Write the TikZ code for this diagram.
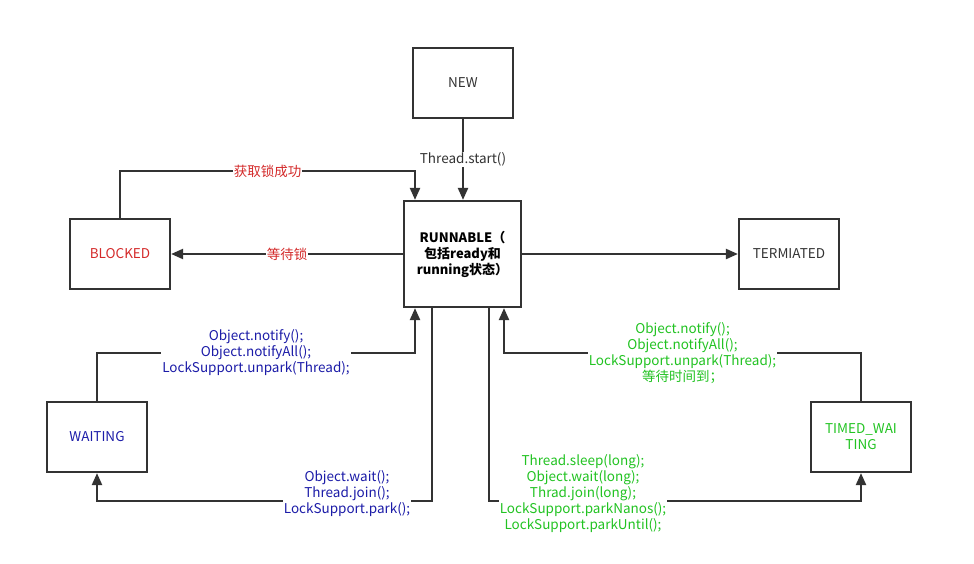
\documentclass[tikz,border=0pt]{standalone}
\usepackage{fontspec}
\setmainfont{Noto Sans CJK SC}
\usetikzlibrary{arrows.meta}
\definecolor{lineGray}{HTML}{333333}
\definecolor{lockRed}{HTML}{D42A2A}
\definecolor{waitBlue}{HTML}{1C1CA8}
\definecolor{timedGreen}{HTML}{22C322}

\begin{document}
\begin{tikzpicture}[x=1pt,y=-1pt,
    state/.style={draw=lineGray, line width=2.2pt, minimum width=100pt, minimum height=70pt,
        align=center, text=lineGray, font=\fontsize{13.5}{16}\selectfont},
    arr/.style={draw=lineGray, line width=2.2pt, -{Triangle[length=12pt,width=10pt]}},
    lab/.style={fill=white, inner sep=1pt, align=center, font=\fontsize{13.5}{16}\selectfont}]
    \useasboundingbox (0,0) rectangle (974,564);

    \node[state] (new) at (463,83) {NEW};
    \node[state, minimum width=117pt, minimum height=106pt, text=black,
        font=\fontsize{13}{16}\selectfont\bfseries] (runnable) at (462.5,254)
        {RUNNABLE（\\包括ready和\\running状态）};
    \node[state] (termiated) at (789,254) {TERMIATED};
    \node[state, text=lockRed] (blocked) at (120,254) {BLOCKED};
    \node[state, text=waitBlue] (waiting) at (97,437) {WAITING};
    \node[state, text=timedGreen] (timed) at (861,437) {TIMED\_WAI\\TING};

    \coordinate (bk) at (415,171);
    \coordinate (wk) at (415,353);
    \coordinate (tk) at (504,353);
    \coordinate (wd) at (432,501);
    \coordinate (td) at (489,501);

    \draw[arr] (new.south) -- node[lab, text=lineGray] {Thread.start()} (new.south |- runnable.north);
    \draw[arr] (blocked.north) |- node[lab, text=lockRed, pos=0.75] {获取锁成功} (bk) -- (bk |- runnable.north);
    \draw[arr] (runnable) -- node[lab, text=lockRed] {等待锁} (blocked);
    \draw[arr] (runnable) -- (termiated);

    \draw[arr] (waiting.north) |- node[lab, text=waitBlue, pos=0.75]
        {Object.notify();\\Object.notifyAll();\\LockSupport.unpark(Thread);} (wk) -- (wk |- runnable.south);
    \draw[arr] (wd |- runnable.south) -- (wd) -| (waiting.south);
    \node[lab, text=waitBlue] (toWaiting) at (347,494) {Object.wait();\\Thread.join();\\LockSupport.park();};

    \draw[arr] (timed.north) |- node[lab, text=timedGreen, pos=0.75]
        {Object.notify();\\Object.notifyAll();\\LockSupport.unpark(Thread);\\等待时间到；} (tk) -- (tk |- runnable.south);
    \draw[arr] (td |- runnable.south) -- (td) -| (timed.south);
    \node[lab, text=timedGreen] (toTimed) at (583,494)
        {Thread.sleep(long);\\Object.wait(long);\\Thrad.join(long);\\LockSupport.parkNanos();\\LockSupport.parkUntil();};
\end{tikzpicture}
\end{document}
